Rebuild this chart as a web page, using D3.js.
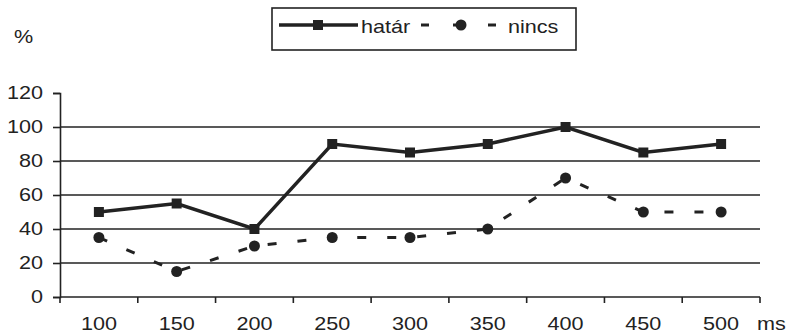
<!DOCTYPE html>
<html>
<head>
<meta charset="utf-8">
<script src="https://cdn.jsdelivr.net/npm/d3@7"></script>
<style>
  html, body { margin: 0; padding: 0; background: #fff; }
  svg { display: block; font-family: Arial, "Liberation Sans", sans-serif; }
</style>
</head>
<body>
<svg id="chart" width="789" height="335"></svg>
<script>
// Time categories (ms) and the two measured series (%)
const categories = [100, 150, 200, 250, 300, 350, 400, 450, 500];
const hatarValues = [50, 55, 40, 90, 85, 90, 100, 85, 90];
const nincsValues = [35, 15, 30, 35, 35, 40, 70, 50, 50];
const yTicks = [0, 20, 40, 60, 80, 100, 120];
const seriesNames = ["határ", "nincs"];

const ink = "#222";
const fontSize = "18px";
const stretch = 1.2;          // labels are set in a horizontally widened face
const svg = d3.select("#chart");

const margin = { left: 60, right: 29, top: 93, bottom: 38 };
const W = 789, H = 335;

const x = d3.scaleBand()
  .domain(categories)
  .range([margin.left, W - margin.right])
  .paddingInner(0).paddingOuter(0);

const y = d3.scaleLinear()
  .domain([0, 120])
  .range([H - margin.bottom, margin.top]);

const cx = d => x(d) + x.bandwidth() / 2;

// Widened text label helper
function label(parent, px, py, txt, anchor) {
  return parent.append("text")
    .attr("transform", `translate(${px},${py}) scale(${stretch},1)`)
    .attr("text-anchor", anchor || "start")
    .attr("fill", ink)
    .style("font-size", fontSize)
    .text(txt);
}

// Horizontal gridlines
svg.append("g")
  .selectAll("line")
  .data(yTicks.filter(t => t > 0 && t < 120))
  .join("line")
  .attr("x1", margin.left)
  .attr("x2", W - margin.right)
  .attr("y1", d => y(d))
  .attr("y2", d => y(d))
  .attr("stroke", ink)
  .attr("stroke-width", 1.6);

// Y axis
const yAxis = svg.append("g")
  .attr("transform", `translate(${margin.left},0)`)
  .call(d3.axisLeft(y).tickValues(yTicks).tickSize(7));
yAxis.select(".domain").attr("stroke", ink).attr("stroke-width", 1.6);
yAxis.selectAll(".tick line").attr("stroke", ink).attr("stroke-width", 1.6);
yAxis.selectAll(".tick text")
  .attr("x", 0)
  .attr("transform", `translate(-17,0) scale(${stretch},1)`)
  .attr("fill", ink)
  .style("font-size", fontSize);

// X axis: baseline with ticks at category boundaries
const bottomY = y(0);
svg.append("line")
  .attr("x1", margin.left).attr("x2", W - margin.right)
  .attr("y1", bottomY).attr("y2", bottomY)
  .attr("stroke", ink).attr("stroke-width", 1.6);

const boundaries = categories.map(c => x(c)).concat([x(categories[categories.length - 1]) + x.bandwidth()]);
svg.append("g")
  .selectAll("line")
  .data(boundaries)
  .join("line")
  .attr("x1", d => d).attr("x2", d => d)
  .attr("y1", bottomY).attr("y2", bottomY + 6)
  .attr("stroke", ink).attr("stroke-width", 1.6);

const xLabels = svg.append("g");
categories.forEach(c => label(xLabels, cx(c), bottomY + 33, c, "middle"));

// Axis unit labels
label(svg, 757, bottomY + 33, "ms");
label(svg, 14, 43, "%");

// Series lines
const line = d3.line()
  .x((d, i) => cx(categories[i]))
  .y(d => y(d));

svg.append("path")
  .datum(nincsValues)
  .attr("d", line)
  .attr("fill", "none")
  .attr("stroke", ink)
  .attr("stroke-width", 3)
  .attr("stroke-dasharray", "9,21");

svg.append("path")
  .datum(hatarValues)
  .attr("d", line)
  .attr("fill", "none")
  .attr("stroke", ink)
  .attr("stroke-width", 3.5);

// Markers
svg.append("g")
  .selectAll("rect")
  .data(hatarValues)
  .join("rect")
  .attr("x", (d, i) => cx(categories[i]) - 5)
  .attr("y", d => y(d) - 5)
  .attr("width", 10).attr("height", 10)
  .attr("fill", ink);

svg.append("g")
  .selectAll("circle")
  .data(nincsValues)
  .join("circle")
  .attr("cx", (d, i) => cx(categories[i]))
  .attr("cy", d => y(d))
  .attr("r", 5.5)
  .attr("fill", ink);

// Legend
const legend = svg.append("g");
legend.append("rect")
  .attr("x", 272).attr("y", 8)
  .attr("width", 304).attr("height", 42)
  .attr("fill", "none").attr("stroke", ink).attr("stroke-width", 1.6);

legend.append("line")
  .attr("x1", 279).attr("x2", 358).attr("y1", 25).attr("y2", 25)
  .attr("stroke", ink).attr("stroke-width", 3.5);
legend.append("rect")
  .attr("x", 313).attr("y", 20).attr("width", 10).attr("height", 10)
  .attr("fill", ink);
label(legend, 361, 33, seriesNames[0]);

legend.append("line")
  .attr("x1", 421).attr("x2", 429).attr("y1", 25).attr("y2", 25)
  .attr("stroke", ink).attr("stroke-width", 3);
legend.append("line")
  .attr("x1", 453).attr("x2", 460).attr("y1", 25).attr("y2", 25)
  .attr("stroke", ink).attr("stroke-width", 3);
legend.append("circle")
  .attr("cx", 461).attr("cy", 25).attr("r", 5.5)
  .attr("fill", ink);
legend.append("line")
  .attr("x1", 488).attr("x2", 496).attr("y1", 25).attr("y2", 25)
  .attr("stroke", ink).attr("stroke-width", 3);
label(legend, 508, 33, seriesNames[1]);
</script>
</body>
</html>
